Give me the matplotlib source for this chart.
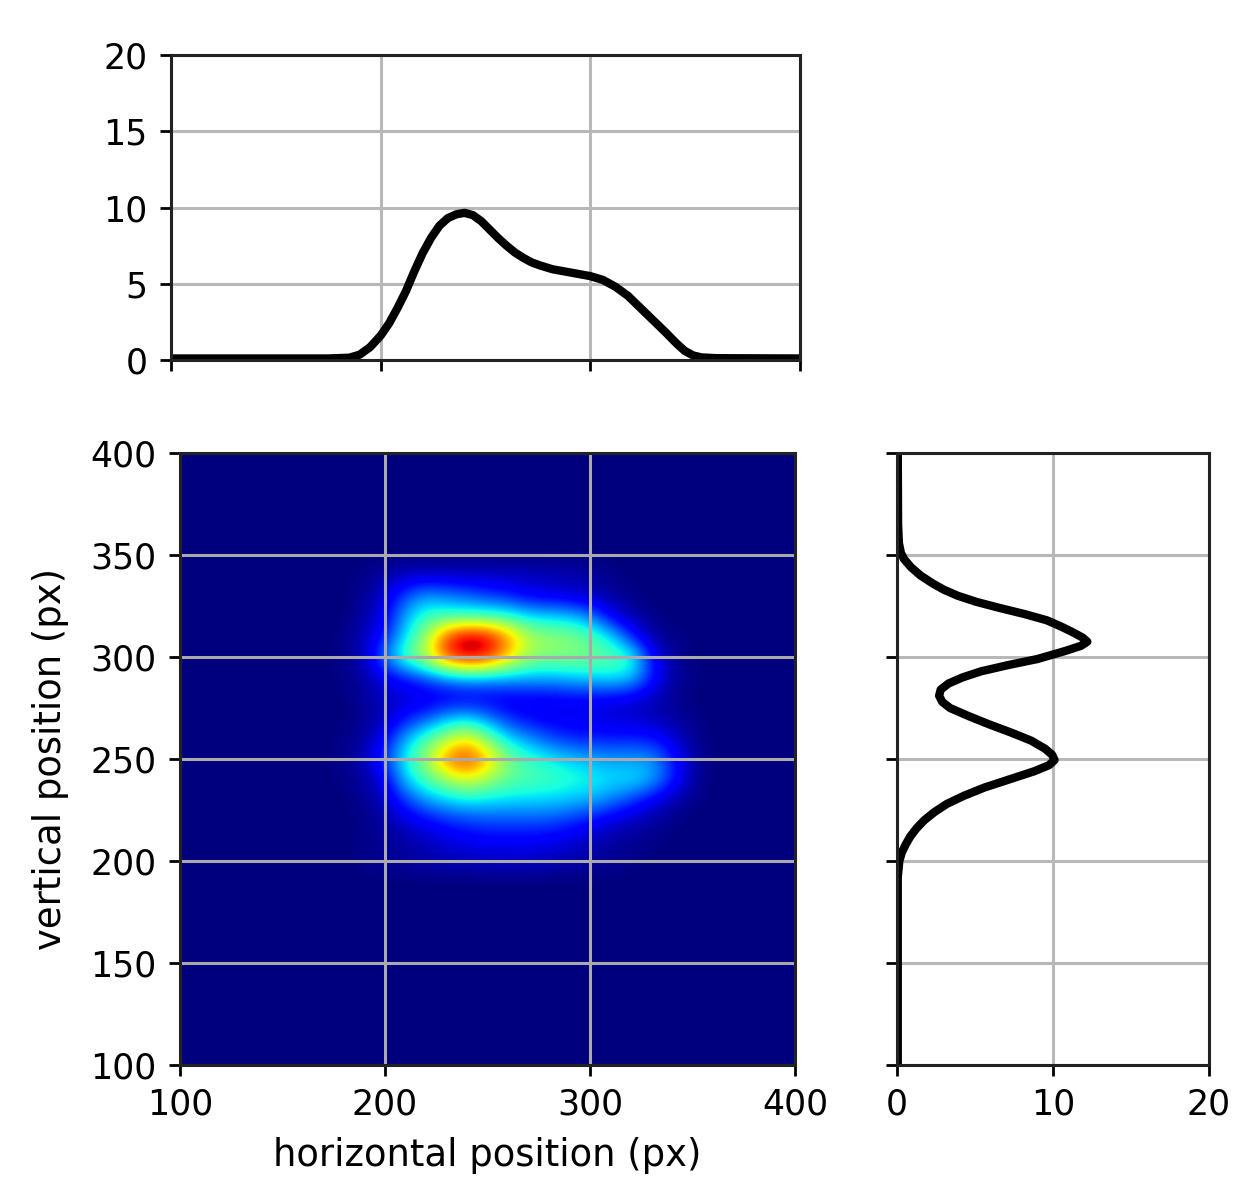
import numpy as np
import matplotlib
matplotlib.use('Agg')
import matplotlib.pyplot as plt

# perfil horizontal (arriba)
perfil_x = [100, 150, 175, 185, 190, 195, 200, 204, 208, 212, 216, 220, 224, 228, 232, 236, 240, 244, 248, 252, 256, 260,
            264, 268, 272, 276, 282, 290, 300, 306, 312, 318, 324, 330, 336, 341, 345, 349, 353, 360, 400]
perfil_xv = [0.1, 0.1, 0.1, 0.15, 0.35, 0.85, 1.6, 2.4, 3.4, 4.5, 5.8, 7.0, 8.0, 8.8, 9.3, 9.55, 9.65, 9.5, 9.1, 8.55, 8.0, 7.5,
             7.05, 6.7, 6.4, 6.2, 5.95, 5.75, 5.5, 5.25, 4.8, 4.2, 3.4, 2.6, 1.8, 1.1, 0.6, 0.3, 0.17, 0.12, 0.1]

# perfil vertical (derecha)
perfil_y = [100, 192, 200, 204, 208, 212, 216, 220, 224, 228, 232, 236, 240, 244, 247, 249.5, 252, 255, 259, 263, 267, 271,
            275, 278, 281, 284, 287, 290, 293, 296, 299, 303, 305.5, 307.5, 309.5, 312, 315, 318, 321, 324, 327, 330, 333,
            336, 340, 344, 348, 351, 356, 365, 400]
perfil_yv = [0.05, 0.05, 0.15, 0.3, 0.55, 0.85, 1.25, 1.75, 2.4, 3.2, 4.3, 5.6, 7.2, 8.8, 9.75, 10.1, 9.95, 9.5, 8.6, 7.3, 5.9, 4.6,
             3.4, 2.9, 2.7, 2.8, 3.3, 4.2, 5.4, 7.1, 9.0, 10.8, 11.8, 12.2, 11.9, 11.3, 10.5, 9.6, 8.2, 6.6, 5.1, 3.9, 3.0,
             2.3, 1.5, 0.9, 0.45, 0.25, 0.12, 0.07, 0.05]

col_x = [180, 190, 200, 210, 220, 230, 240, 250, 260, 270, 280, 290, 300, 310, 320, 330, 340, 350]
fila_y = [200, 210, 220, 230, 240, 250, 260, 270, 280, 290, 300, 310, 320, 330, 340]
intensidad = [
    [.00, .01, .02, .03, .04, .05, .05, .06, .06, .06, .05, .04, .03, .02, .01, .00, .00, .00],
    [.00, .01, .02, .03, .05, .08, .10, .11, .11, .11, .10, .08, .05, .03, .02, .01, .00, .00],
    [.00, .01, .03, .08, .12, .16, .18, .20, .20, .20, .20, .17, .13, .08, .05, .03, .01, .00],
    [.00, .02, .06, .18, .28, .33, .36, .35, .34, .34, .33, .32, .30, .25, .18, .10, .04, .01],
    [.01, .03, .10, .33, .44, .54, .62, .54, .47, .44, .43, .40, .38, .35, .36, .30, .16, .03],
    [.01, .05, .18, .38, .55, .80, .88, .72, .50, .42, .37, .33, .30, .28, .28, .28, .15, .03],
    [.01, .03, .12, .30, .44, .56, .66, .50, .34, .27, .20, .16, .15, .15, .15, .14, .08, .02],
    [.00, .02, .05, .14, .20, .30, .33, .25, .16, .12, .10, .10, .09, .07, .07, .05, .03, .01],
    [.00, .03, .06, .07, .08, .08, .09, .09, .09, .10, .10, .11, .11, .10, .08, .05, .02, .00],
    [.01, .03, .10, .14, .20, .27, .30, .30, .30, .30, .30, .32, .34, .36, .33, .15, .03, .01],
    [.01, .06, .25, .45, .60, .85, .95, .89, .70, .54, .51, .51, .49, .46, .42, .12, .03, .00],
    [.01, .05, .15, .35, .54, .86, .98, .94, .76, .57, .53, .51, .45, .35, .15, .03, .01, .00],
    [.00, .04, .10, .30, .42, .42, .42, .42, .40, .35, .33, .32, .25, .10, .04, .01, .00, .00],
    [.00, .02, .08, .20, .28, .25, .22, .18, .15, .10, .09, .07, .05, .03, .01, .00, .00, .00],
    [.00, .01, .03, .06, .06, .06, .06, .06, .06, .06, .05, .05, .03, .01, .00, .00, .00, .00],
]

ticks_mapa = [100, 200, 300, 400]
ticks_mapa_y = [100, 150, 200, 250, 300, 350, 400]
ticks_perfil = [0, 5, 10, 15, 20]
ticks_perfil_x = [0, 10, 20]

plt.rcParams['font.size'] = 25
plt.rcParams['axes.labelsize'] = 26.6
plt.rcParams['axes.linewidth'] = 2.2
plt.rcParams['xtick.major.size'] = 8
plt.rcParams['ytick.major.size'] = 8
plt.rcParams['xtick.major.width'] = 2
plt.rcParams['ytick.major.width'] = 2
plt.rcParams['xtick.major.pad'] = 8.5
plt.rcParams['ytick.major.pad'] = 9
plt.rcParams['axes.edgecolor'] = '#222222'

W, H = 1236, 1179
fig = plt.figure(figsize=(W / 100, H / 100), dpi=100)

ax_top = fig.add_axes([171 / W, 1 - 360 / H, 629 / W, 305 / H])
ax_map = fig.add_axes([180 / W, 1 - 1065 / H, 615 / W, 612 / H])
ax_der = fig.add_axes([897 / W, 1 - 1065 / H, 312 / W, 612 / H])

# mapa completo de 100 a 400, el resto es fondo
campo = np.zeros((31, 31))
for i, y in enumerate(fila_y):
    for j, x in enumerate(col_x):
        campo[(y - 100) // 10, (x - 100) // 10] = intensidad[i][j]
ax_map.imshow(campo, origin='lower', extent=[95, 405, 95, 405], cmap='jet', vmin=0, vmax=1,
              interpolation='bicubic', aspect='auto')
ax_map.set_xlim(100, 400)
ax_map.set_ylim(100, 400)
ax_map.set_xticks(ticks_mapa)
ax_map.set_yticks(ticks_mapa_y)
ax_map.grid(True, color='#aaaaaa', linewidth=2.2)
ax_map.set_xlabel('horizontal position (px)', labelpad=11)
ax_map.set_ylabel('vertical position (px)', labelpad=15)

ax_top.plot(perfil_x, perfil_xv, color='black', linewidth=6, solid_joinstyle='round')
ax_top.set_xlim(100, 400)
ax_top.set_ylim(0, 20)
ax_top.set_xticks(ticks_mapa)
ax_top.set_xticklabels([])
ax_top.set_yticks(ticks_perfil)
ax_top.grid(True, color='#b8b8b8', linewidth=2.2)

ax_der.plot(perfil_yv, perfil_y, color='black', linewidth=6, solid_joinstyle='round')
ax_der.set_xlim(0, 20)
ax_der.set_ylim(100, 400)
ax_der.set_xticks(ticks_perfil_x)
ax_der.set_yticks(ticks_mapa_y)
ax_der.set_yticklabels([])
ax_der.grid(True, color='#b8b8b8', linewidth=2.2)

fig.savefig('out.png', dpi=100)
